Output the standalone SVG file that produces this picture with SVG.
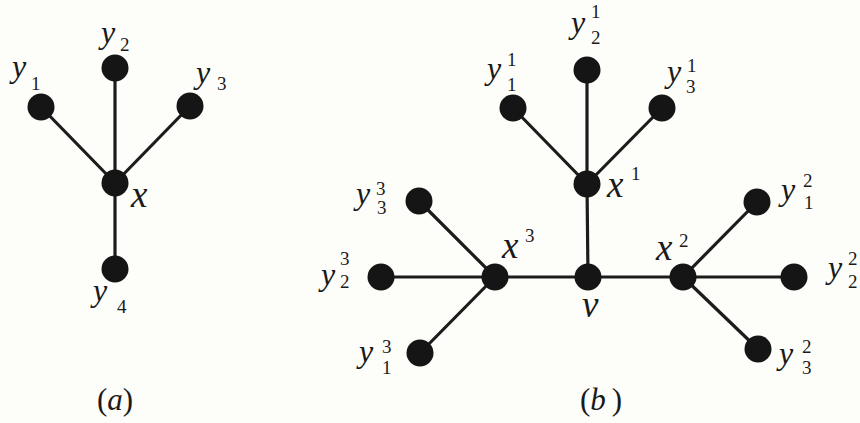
<svg xmlns="http://www.w3.org/2000/svg" width="860" height="423" viewBox="0 0 860 423">
<style>
.e{stroke:#1c1c1c;stroke-width:3.2;fill:none}
.n{fill:#151515}
text{font-family:'Liberation Serif','Times New Roman',serif;fill:#1a1a1a}
.v{font-style:italic;font-size:32px}
.b{font-style:italic;font-size:37px}
.d{font-size:19px}
.c{font-size:31px}
</style>
<rect width="860" height="423" fill="#fdfdf9"/>
<g id="connectors">
<line class="e" x1="115" y1="183" x2="41" y2="107"/>
<line class="e" x1="115" y1="183" x2="115" y2="68"/>
<line class="e" x1="115" y1="183" x2="190" y2="106"/>
<line class="e" x1="115" y1="183" x2="115" y2="269"/>
<line class="e" x1="381" y1="277" x2="794" y2="277"/>
<line class="e" x1="588" y1="277" x2="587" y2="184"/>
<line class="e" x1="587" y1="184" x2="513" y2="108"/>
<line class="e" x1="587" y1="184" x2="587" y2="70"/>
<line class="e" x1="587" y1="184" x2="662" y2="108"/>
<line class="e" x1="683" y1="277" x2="757" y2="202"/>
<line class="e" x1="683" y1="277" x2="758" y2="349"/>
<line class="e" x1="495" y1="277" x2="419" y2="201"/>
<line class="e" x1="495" y1="277" x2="420" y2="353"/>
</g>
<g id="a-x"><circle class="n" cx="115" cy="183" r="13.5"/><text class="b" x="131" y="207">x</text></g>
<g id="a-y1"><circle class="n" cx="41" cy="107" r="13.5"/><text class="v" x="12" y="77">y</text><text class="d" x="31" y="90">1</text></g>
<g id="a-y2"><circle class="n" cx="115" cy="68" r="13.5"/><text class="v" x="101" y="43">y</text><text class="d" x="120" y="51">2</text></g>
<g id="a-y3"><circle class="n" cx="190" cy="106" r="13.5"/><text class="v" x="196" y="83">y</text><text class="d" x="217" y="90">3</text></g>
<g id="a-y4"><circle class="n" cx="115" cy="269" r="13.5"/><text class="v" x="93" y="301">y</text><text class="d" x="117" y="313">4</text></g>
<g id="label-a"><text class="c" x="97" y="410">(<tspan font-style="italic">a</tspan>)</text></g>
<g id="b-v"><circle class="n" cx="588" cy="277" r="13.5"/><text class="b" x="582" y="317">v</text></g>
<g id="b-x1"><circle class="n" cx="587" cy="184" r="13.5"/><text class="b" x="607" y="197">x</text><text class="d" x="631" y="180">1</text></g>
<g id="b-x2"><circle class="n" cx="683" cy="277" r="13.5"/><text class="b" x="656" y="260">x</text><text class="d" x="679" y="247">2</text></g>
<g id="b-x3"><circle class="n" cx="495" cy="277" r="13.5"/><text class="b" x="502" y="258">x</text><text class="d" x="525" y="242">3</text></g>
<g id="b-y11"><circle class="n" cx="513" cy="108" r="13.5"/><text class="v" x="487" y="79">y</text><text class="d" x="507" y="66">1</text><text class="d" x="507" y="91">1</text></g>
<g id="b-y21"><circle class="n" cx="587" cy="70" r="13.5"/><text class="v" x="571" y="33">y</text><text class="d" x="591" y="18">1</text><text class="d" x="591" y="44">2</text></g>
<g id="b-y31"><circle class="n" cx="662" cy="108" r="13.5"/><text class="v" x="667" y="82">y</text><text class="d" x="687" y="72">1</text><text class="d" x="686" y="93">3</text></g>
<g id="b-y12"><circle class="n" cx="757" cy="202" r="13.5"/><text class="v" x="781" y="200">y</text><text class="d" x="803" y="187">2</text><text class="d" x="804" y="209">1</text></g>
<g id="b-y22"><circle class="n" cx="794" cy="277" r="13.5"/><text class="v" x="828" y="278">y</text><text class="d" x="848" y="265">2</text><text class="d" x="848" y="288">2</text></g>
<g id="b-y32"><circle class="n" cx="758" cy="349" r="13.5"/><text class="v" x="779" y="364">y</text><text class="d" x="802" y="353">2</text><text class="d" x="802" y="374">3</text></g>
<g id="b-y13"><circle class="n" cx="420" cy="353" r="13.5"/><text class="v" x="359" y="362">y</text><text class="d" x="382" y="353">3</text><text class="d" x="382" y="374">1</text></g>
<g id="b-y23"><circle class="n" cx="381" cy="277" r="13.5"/><text class="v" x="321" y="285">y</text><text class="d" x="340" y="265">3</text><text class="d" x="340" y="288">2</text></g>
<g id="b-y33"><circle class="n" cx="419" cy="201" r="13.5"/><text class="v" x="356" y="204">y</text><text class="d" x="376" y="195">3</text><text class="d" x="377" y="214">3</text></g>
<g id="label-b"><text class="c" x="580" y="410">(<tspan font-style="italic">b</tspan><tspan dx="6">)</tspan></text></g>
</svg>
